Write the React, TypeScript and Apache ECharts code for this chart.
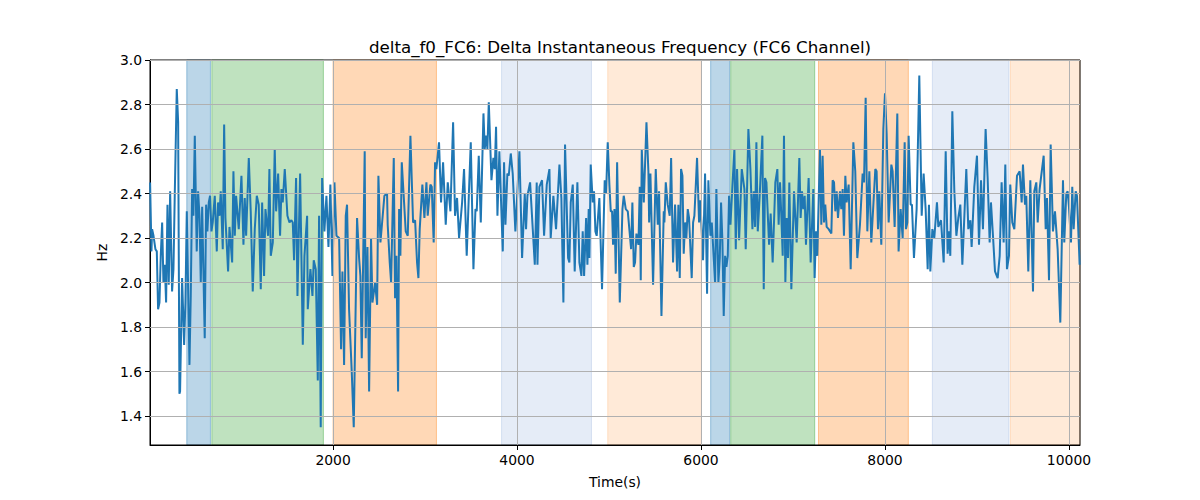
import React, { useEffect, useRef } from "react";
import * as echarts from "echarts";

const times: number[] = [
  11, 26, 33, 48, 69, 84, 98, 113, 127, 142, 156, 171, 185, 200, 214, 229, 250, 265, 279, 301, 308, 316, 330, 337, 359, 381, 395, 410, 439, 453, 468, 482, 497, 518, 533, 548, 562, 577, 605, 620, 634, 649, 663, 678, 692, 714, 736, 750, 765, 779, 801, 816, 830, 859, 874, 903, 917, 932, 946, 975, 1004, 1026, 1040, 1055, 1084, 1105, 1127, 1149, 1171, 1192, 1214, 1229, 1250, 1265, 1294, 1308, 1323, 1345, 1366, 1381, 1403, 1424, 1439, 1453, 1475, 1504, 1526, 1547, 1562, 1576, 1598, 1613, 1642, 1656, 1671,
  1689, 1718, 1725, 1754, 1776, 1790, 1812, 1834, 1848, 1866, 1881, 1906, 1928, 1950, 1971, 1993, 2015, 2037, 2066, 2087, 2102, 2120, 2138, 2152, 2174, 2203, 2225, 2261, 2283, 2297, 2312, 2344, 2355, 2374, 2392, 2413, 2428, 2457, 2479, 2493, 2515, 2558, 2587, 2594, 2616, 2631, 2660, 2674, 2689, 2707, 2718, 2732, 2747, 2768, 2790, 2812, 2841, 2870, 2892, 2913, 2928, 2942, 2971, 2993, 3015, 3029, 3058, 3073, 3094, 3109, 3123, 3152, 3174, 3196, 3225, 3247, 3276, 3305, 3326, 3348, 3370,
  3403, 3424, 3453, 3475, 3497, 3526, 3548, 3562, 3584, 3606, 3635, 3649, 3664, 3678, 3693, 3722, 3743, 3758, 3772, 3787, 3808, 3830, 3845, 3859, 3874, 3895, 3910, 3932, 3953, 3982, 4026, 4055, 4084, 4098, 4113, 4142, 4171, 4193, 4214, 4222, 4243, 4272, 4294, 4323, 4352, 4366, 4395, 4424, 4461, 4482, 4504, 4522, 4555, 4569, 4584, 4606, 4627, 4656, 4678, 4700, 4714, 4729, 4751, 4765, 4779, 4787, 4801, 4823, 4837, 4852, 4866, 4895, 4924, 4953, 4968, 4986, 5004, 5019, 5033,
  5044, 5059, 5073, 5088, 5117, 5146, 5160, 5182, 5204, 5240, 5254, 5269, 5283, 5298, 5320, 5334, 5345, 5356, 5378, 5407, 5428, 5436, 5450, 5479, 5508, 5530, 5544, 5570, 5595, 5602, 5617, 5638, 5660, 5675, 5696, 5718, 5740, 5754, 5769, 5783, 5798, 5812, 5827, 5841, 5856, 5870, 5899, 5914, 5928, 5957, 5979, 5993, 6022, 6044, 6066, 6080, 6102, 6117, 6153, 6167, 6189, 6204, 6218, 6233, 6247, 6262, 6276, 6291, 6305, 6320, 6341, 6363, 6378, 6392, 6414, 6443, 6472, 6486, 6515, 6537, 6559, 6573, 6588, 6602, 6617, 6638, 6667, 6682, 6696, 6711, 6740,
  6757, 6779, 6808, 6830, 6844, 6859, 6873, 6888, 6902, 6917, 6931, 6946, 6960, 6982, 7011, 7040, 7069, 7083, 7098, 7112, 7127, 7141, 7170, 7192, 7221, 7235, 7250, 7264, 7293, 7308, 7322, 7337, 7351, 7366, 7388, 7417, 7431, 7446, 7460, 7475, 7489, 7511, 7525, 7540, 7554, 7569, 7583, 7605, 7627, 7656, 7677, 7699, 7728, 7757, 7772, 7790, 7808, 7830, 7851, 7895, 7909, 7924, 7938, 7960, 7982, 8000, 8018, 8040, 8069, 8083, 8105, 8134, 8148, 8170, 8192, 8214, 8228, 8243, 8257, 8279, 8293, 8315, 8344, 8373,
  8399, 8420, 8442, 8464, 8478, 8493, 8515, 8536, 8565, 8580, 8609, 8638, 8660, 8681, 8696, 8710, 8732, 8754, 8776, 8797, 8819, 8841, 8884, 8906, 8928, 8942, 8971, 9000, 9022, 9044, 9065, 9094, 9116, 9138, 9152, 9174, 9196, 9225, 9247, 9268, 9290, 9308, 9326, 9348, 9362, 9384, 9406, 9435, 9464, 9486, 9500, 9522, 9536, 9558, 9580, 9609, 9623, 9645, 9660, 9681, 9725, 9747, 9761, 9783, 9801, 9826, 9848, 9877, 9906, 9935, 9949, 9971, 9986, 10000, 10022, 10036, 10051, 10073, 10087, 10116,
];

const deltaF0: number[] = [
  2.45, 2.14, 2.24, 2.21, 2.15, 2.14, 1.88, 1.91, 2.12, 2.27, 2.0, 2.08, 1.91, 2.35, 1.99, 2.41, 1.96, 2.06, 2.39, 2.87, 2.87, 2.72, 1.5, 1.51, 2.02, 1.72, 1.91, 2.32, 1.63, 1.94, 2.42, 2.3, 2.66, 2.14, 2.41, 2.3, 2.0, 2.34, 1.75, 2.35, 2.23, 2.36, 2.39, 2.23, 2.27, 2.39, 2.14, 2.36, 2.3, 2.41, 2.15, 2.71, 2.29, 2.05, 2.25, 2.09, 2.5, 2.21, 2.39, 2.24, 2.48, 2.17, 2.38, 2.21, 2.56, 2.32, 1.96, 2.24, 2.39, 2.35, 1.97, 2.36, 2.03, 2.33, 2.21, 2.51, 2.12, 2.18, 2.6, 2.32, 2.49, 2.21, 2.42, 2.36, 2.51, 2.3, 2.27, 2.28, 2.27, 2.1, 2.47, 1.94, 2.49, 2.12, 1.72,
  2.12, 2.3, 1.88, 2.06, 1.94, 2.1, 2.06, 1.56, 2.3, 1.35, 2.47, 2.23, 2.39, 2.16, 2.44, 2.03, 2.45, 2.21, 2.2, 1.7, 2.05, 1.63, 2.3, 2.35, 1.88, 1.6, 1.35, 2.29, 2.11, 2.03, 1.66, 2.59, 1.75, 2.16, 1.51, 2.2, 1.91, 2.0, 1.9, 2.48, 2.18, 2.39, 2.4, 2.26, 2.09, 2.0, 2.56, 1.93, 2.12, 1.51, 2.33, 2.12, 2.54, 2.39, 2.23, 2.21, 2.66, 2.27, 2.28, 2.09, 2.02, 2.24, 2.44, 2.29, 2.45, 2.3, 2.44, 2.43, 2.18, 2.54, 2.51, 2.63, 2.36, 2.54, 2.26, 2.45, 2.32, 2.72, 2.3, 2.38, 2.2,
  2.36, 2.51, 2.12, 2.38, 2.63, 2.06, 2.33, 2.32, 2.57, 2.27, 2.76, 2.6, 2.66, 2.6, 2.81, 2.46, 2.56, 2.51, 2.7, 2.3, 2.59, 2.32, 2.14, 2.54, 2.26, 2.49, 2.48, 2.58, 2.49, 2.23, 2.59, 2.11, 2.4, 2.24, 2.39, 2.45, 2.24, 2.08, 2.45, 2.08, 2.43, 2.46, 2.21, 2.44, 2.51, 2.2, 2.39, 2.24, 2.53, 2.38, 1.91, 2.62, 2.11, 2.09, 2.36, 2.44, 2.05, 2.45, 2.09, 2.03, 2.23, 2.03, 2.29, 2.08, 2.33, 2.11, 2.53, 2.36, 2.41, 2.23, 2.21, 2.38, 1.97, 2.46, 2.4, 2.63, 2.44, 2.32, 2.32,
  2.17, 2.33, 2.04, 2.54, 1.91, 2.33, 2.39, 2.33, 2.32, 2.15, 2.36, 2.07, 2.09, 2.22, 2.17, 2.43, 2.01, 2.6, 2.36, 2.72, 2.5, 2.27, 2.49, 1.99, 2.51, 2.26, 2.41, 1.85, 2.32, 2.27, 2.45, 2.35, 2.3, 2.56, 2.09, 2.35, 2.05, 2.35, 2.02, 2.51, 2.48, 2.13, 2.27, 2.2, 2.33, 2.29, 2.02, 2.27, 2.3, 2.56, 2.27, 2.37, 2.1, 2.49, 1.95, 2.46, 2.21, 2.27, 2.0, 2.42, 2.0, 2.11, 2.36, 2.18, 1.85, 2.12, 2.07, 2.12, 2.39, 2.26, 2.43, 2.6, 2.15, 2.51, 2.19, 2.51, 2.42, 2.15, 2.69, 2.51, 2.24, 2.41, 2.25, 2.63, 2.23, 2.39, 2.66, 1.97, 2.47, 2.45, 2.17,
  2.31, 2.09, 2.45, 2.51, 2.26, 2.45, 2.3, 2.12, 2.66, 2.0, 2.29, 2.11, 2.45, 1.97, 2.41, 2.18, 2.56, 2.29, 2.41, 2.33, 2.39, 2.17, 2.47, 2.09, 2.42, 2.02, 2.23, 2.12, 2.6, 2.26, 2.57, 2.27, 2.35, 2.25, 2.24, 2.22, 2.46, 2.45, 2.32, 2.41, 2.29, 2.41, 2.33, 2.42, 2.21, 2.48, 2.36, 2.44, 2.06, 2.63, 2.5, 2.11, 2.26, 2.49, 2.45, 2.83, 2.23, 2.5, 2.18, 2.51, 2.5, 2.24, 2.41, 2.17, 2.69, 2.85, 2.67, 2.27, 2.53, 2.5, 2.25, 2.76, 2.14, 2.33, 2.2, 2.63, 2.24, 2.27, 2.66, 2.35, 2.35, 2.11, 2.33, 2.93,
  2.3, 2.49, 2.33, 2.06, 2.35, 2.05, 2.24, 2.2, 2.36, 2.25, 2.28, 2.09, 2.59, 2.13, 2.23, 2.12, 2.77, 2.41, 2.21, 2.29, 2.35, 2.08, 2.51, 2.24, 2.28, 2.16, 2.43, 2.57, 2.17, 2.46, 2.24, 2.69, 2.47, 2.18, 2.36, 2.21, 2.05, 2.02, 2.12, 2.45, 2.18, 2.53, 2.06, 2.12, 2.44, 2.27, 2.24, 2.48, 2.5, 2.36, 2.53, 2.35, 2.39, 2.05, 2.46, 1.96, 2.41, 2.45, 2.27, 2.42, 2.57, 2.24, 2.38, 2.01, 2.62, 2.23, 2.32, 2.15, 1.82, 2.46, 2.18, 2.4, 2.41, 2.34, 2.18, 2.43, 2.24, 2.41, 2.39, 2.08,
];

const bandStarts: number[] = [410, 682, 2000, 3832, 4986, 6105, 6323, 7277, 8515, 9363];
const bandEnds: number[] = [667, 1895, 3124, 4809, 6004, 6312, 7236, 8254, 9348, 10120];
const bandKinds: string[] = ["blue", "green", "orange", "lightblue", "lightorange", "blue", "green", "orange", "lightblue", "lightorange"];

const xTicks: number[] = [2000, 4000, 6000, 8000, 10000];
const yTicks: number[] = [1.4, 1.6, 1.8, 2.0, 2.2, 2.4, 2.6, 2.8, 3.0];

const bandFill: Record<string, string> = {
  blue: "rgba(31,119,180,0.3)",
  green: "rgba(44,160,44,0.3)",
  orange: "rgba(255,127,14,0.3)",
  lightblue: "rgba(70,120,200,0.14)",
  lightorange: "rgba(255,140,40,0.18)",
};
const bandEdge: Record<string, string> = {
  blue: "rgba(31,119,180,0.4)",
  green: "rgba(44,160,44,0.4)",
  orange: "rgba(255,127,14,0.4)",
  lightblue: "rgba(70,120,200,0.18)",
  lightorange: "rgba(255,140,40,0.22)",
};

const FONT = "DejaVu Sans";

export default function App() {
  const ref = useRef<HTMLDivElement>(null);
  useEffect(() => {
    document.body.style.margin = "0";
    if (!ref.current) return;
    const chart = echarts.init(ref.current, null, { renderer: "svg" });
    const lineData = times.map((t, i) => [t, deltaF0[i]]);
    const areas = bandStarts.map((s, i) => [
      {
        xAxis: s,
        itemStyle: { color: bandFill[bandKinds[i]], borderColor: bandEdge[bandKinds[i]], borderWidth: 1 },
      },
      { xAxis: bandEnds[i] },
    ]);
    chart.setOption({
      animation: false,
      backgroundColor: "#ffffff",
      title: {
        text: "delta_f0_FC6: Delta Instantaneous Frequency (FC6 Channel)",
        left: 615,
        top: 33,
        textAlign: "center",
        textStyle: { fontFamily: FONT, fontSize: 16.7, fontWeight: "normal", color: "#000" },
      },
      grid: {
        left: 150,
        right: 120,
        top: 60,
        bottom: 55,
        show: true,
        borderColor: "#000",
        borderWidth: 1,
        backgroundColor: "transparent",
        z: 3,
      },
      xAxis: {
        type: "value",
        min: 10,
        max: 10120,
        z: 3,
        name: "Time(s)",
        nameLocation: "middle",
        nameGap: 30,
        nameTextStyle: { fontFamily: FONT, fontSize: 13.9, color: "#000" },
        axisLine: { show: true, onZero: false, lineStyle: { color: "#000", width: 1 } },
        axisTick: { show: true, length: 5, lineStyle: { color: "#000" }, customValues: xTicks },
        axisLabel: {
          fontFamily: FONT,
          fontSize: 13.9,
          color: "#000",
          margin: 8,
          customValues: xTicks,
          formatter: (v: number) => String(v),
        },
        splitLine: { show: false },
      },
      yAxis: {
        type: "value",
        min: 1.27,
        max: 3.0,
        z: 3,
        name: "Hz",
        nameLocation: "middle",
        nameGap: 36,
        nameTextStyle: { fontFamily: FONT, fontSize: 13.9, color: "#000" },
        axisLine: { show: true, onZero: false, lineStyle: { color: "#000", width: 1 } },
        axisTick: { show: true, length: 5, lineStyle: { color: "#000" }, customValues: yTicks },
        axisLabel: {
          fontFamily: FONT,
          fontSize: 13.9,
          color: "#000",
          margin: 8,
          customValues: yTicks,
          formatter: (v: number) => v.toFixed(1),
        },
        splitLine: { show: false },
      },
      series: [
        {
          type: "line",
          name: "bands",
          data: [],
          z: 1,
          silent: true,
          markArea: { silent: true, data: areas },
        },
        {
          type: "line",
          name: "grid",
          data: [],
          z: 2,
          silent: true,
          markLine: {
            silent: true,
            symbol: "none",
            label: { show: false },
            lineStyle: { color: "#b0b0b0", width: 1, type: "solid" },
            data: [
              ...xTicks.map((v) => ({ xAxis: v })),
              ...yTicks.map((v) => ({ yAxis: v })),
            ],
          },
        },
        {
          type: "line",
          name: "delta_f0",
          data: lineData,
          z: 4,
          showSymbol: false,
          symbol: "none",
          lineStyle: { color: "#1f77b4", width: 2 },
          itemStyle: { color: "#1f77b4" },
        },
      ],
    });
    return () => chart.dispose();
  }, []);
  return <div ref={ref} style={{ width: 1200, height: 500 }} />;
}
